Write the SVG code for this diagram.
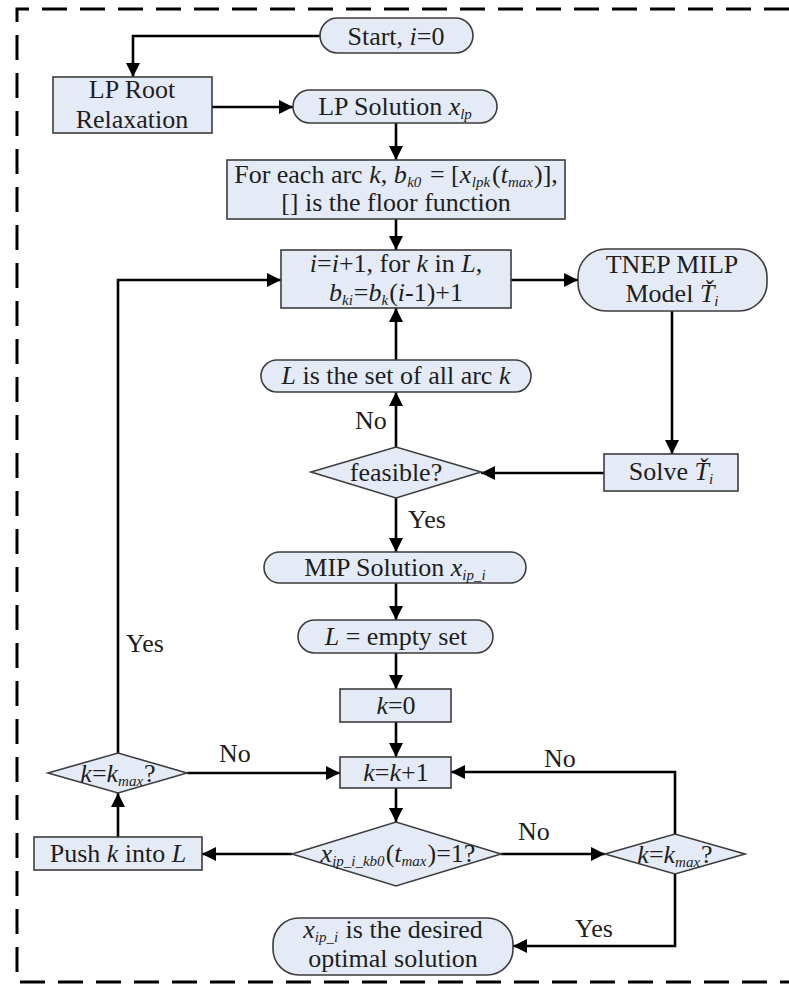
<svg xmlns="http://www.w3.org/2000/svg" width="789" height="988" viewBox="0 0 789 988">
  <defs>
    <marker id="arrow" markerUnits="userSpaceOnUse" markerWidth="14" markerHeight="14" refX="14" refY="7" orient="auto">
      <path d="M0,0 L14,7 L0,14 z" fill="#000"/>
    </marker>
    <style>
      .node { fill: #e4ebf7; stroke: #3d3d3d; stroke-width: 1.6; }
      .edge { fill: none; stroke: #000; stroke-width: 2.6; marker-end: url(#arrow); }
      .frame { fill: none; stroke: #000; stroke-width: 3; stroke-dasharray: 25 13; }
      text { font-family: "Liberation Serif", "Times New Roman", serif; font-size: 26px; fill: #1e1e1e; }
      .c { text-anchor: middle; }
      .it { font-style: italic; }
      .sub { font-style: italic; font-size: 15px; }
    </style>
  </defs>

  <rect width="789" height="988" fill="#fff"/>

  <!-- dashed outer boundary (right side runs off the page) -->
  <path class="frame" d="M789,9 H17 V982 H789"/>

  <!-- connectors -->
  <g id="connectors">
    <path class="edge" d="M320,36 H133 V77"/>
    <path class="edge" d="M212,107 H293"/>
    <path class="edge" d="M396,123 V160"/>
    <path class="edge" d="M396,219 V250"/>
    <path class="edge" d="M511,280 H578"/>
    <path class="edge" d="M672,311 V454"/>
    <path class="edge" d="M604,473 H481"/>
    <path class="edge" d="M396,447 V392"/>
    <path class="edge" d="M396,360 V308"/>
    <path class="edge" d="M396,498 V552"/>
    <path class="edge" d="M396,583 V620"/>
    <path class="edge" d="M396,653 V689"/>
    <path class="edge" d="M396,722 V757"/>
    <path class="edge" d="M396,788 V822"/>
    <path class="edge" d="M292,854 H202"/>
    <path class="edge" d="M118,837 V793"/>
    <path class="edge" d="M187,773 H340"/>
    <path class="edge" d="M118,753 V280 H281"/>
    <path class="edge" d="M501,854 H605"/>
    <path class="edge" d="M675,834 V772 H451"/>
    <path class="edge" d="M675,874 V946 H513"/>

    <text x="355" y="429">No</text>
    <text x="408" y="528">Yes</text>
    <text x="126" y="652">Yes</text>
    <text x="219" y="762">No</text>
    <text x="544" y="767">No</text>
    <text x="518" y="840">No</text>
    <text x="575" y="937">Yes</text>
  </g>

  <g id="start">
    <rect class="node" x="320" y="18" width="153" height="35" rx="17.5"/>
    <text class="c" x="396" y="44.5">Start, <tspan class="it">i</tspan>=0</text>
  </g>

  <g id="lp-root">
    <rect class="node" x="53" y="77" width="159" height="56"/>
    <text class="c" x="132" y="98">LP Root</text>
    <text class="c" x="132" y="128">Relaxation</text>
  </g>

  <g id="lp-solution">
    <rect class="node" x="293" y="90" width="204" height="33" rx="16.5"/>
    <text class="c" x="395" y="115">LP Solution <tspan class="it">x</tspan><tspan class="sub" dy="4">lp</tspan></text>
  </g>

  <g id="floor-init">
    <rect class="node" x="227" y="160" width="338" height="59"/>
    <text class="c" x="396" y="183">For each arc <tspan class="it">k</tspan>, <tspan class="it">b</tspan><tspan class="sub" dx="0.5" dy="4">k0</tspan><tspan dx="2" dy="-4"> = [</tspan><tspan class="it">x</tspan><tspan class="sub" dx="0.5" dy="4">lpk</tspan><tspan dx="2" dy="-4">(</tspan><tspan class="it">t</tspan><tspan class="sub" dy="4">max</tspan><tspan dx="1" dy="-4">)],</tspan></text>
    <text class="c" x="396" y="211">[] is the floor function</text>
  </g>

  <g id="increment">
    <rect class="node" x="281" y="250" width="230" height="58"/>
    <text class="c" x="396" y="272"><tspan class="it">i</tspan>=<tspan class="it">i</tspan>+1, for <tspan class="it">k</tspan> in <tspan class="it">L</tspan>,</text>
    <text class="c" x="396" y="301"><tspan class="it">b</tspan><tspan class="sub" dy="4">ki</tspan><tspan dx="1" dy="-4">=</tspan><tspan class="it">b</tspan><tspan class="sub" dy="4">k</tspan><tspan dx="1" dy="-4">(</tspan><tspan class="it">i</tspan>-1)+1</text>
  </g>

  <g id="tnep-model">
    <rect class="node" x="578" y="249" width="189" height="62" rx="28"/>
    <text class="c" x="672" y="273">TNEP MILP</text>
    <text class="c" x="672" y="302">Model <tspan class="it">Ť</tspan><tspan class="sub" dy="4">i</tspan></text>
  </g>

  <g id="solve">
    <rect class="node" x="604" y="454" width="134" height="37"/>
    <text class="c" x="671" y="480">Solve <tspan class="it">Ť</tspan><tspan class="sub" dy="4">i</tspan></text>
  </g>

  <g id="reset-all">
    <rect class="node" x="261" y="360" width="270" height="32" rx="16"/>
    <text class="c" x="396" y="384"><tspan class="it">L</tspan> is the set of all arc <tspan class="it">k</tspan></text>
  </g>

  <g id="feasible">
    <polygon class="node" points="311,472 396,447 481,472 396,498"/>
    <text class="c" x="396" y="481">feasible?</text>
  </g>

  <g id="mip-solution">
    <rect class="node" x="264" y="552" width="262" height="31" rx="15.5"/>
    <text class="c" x="395" y="576">MIP Solution <tspan class="it">x</tspan><tspan class="sub" dy="4">ip_i</tspan></text>
  </g>

  <g id="empty-set">
    <rect class="node" x="298" y="620" width="195" height="33" rx="16.5"/>
    <text class="c" x="396" y="645"><tspan class="it">L</tspan> = empty set</text>
  </g>

  <g id="k-zero">
    <rect class="node" x="340" y="689" width="111" height="33"/>
    <text class="c" x="396" y="714"><tspan class="it">k</tspan>=0</text>
  </g>

  <g id="k-next">
    <rect class="node" x="340" y="757" width="111" height="31"/>
    <text class="c" x="396" y="781"><tspan class="it">k</tspan>=<tspan class="it">k</tspan>+1</text>
  </g>

  <g id="check-arc">
    <polygon class="node" points="292,854 396,822 501,854 396,886"/>
    <text class="c" x="398" y="862"><tspan class="it">x</tspan><tspan class="sub" dy="4" font-size="12">ip_i_kb0</tspan><tspan dx="1" dy="-4">(</tspan><tspan class="it">t</tspan><tspan class="sub" dy="4">max</tspan><tspan dx="1" dy="-4">)=1?</tspan></text>
  </g>

  <g id="push">
    <rect class="node" x="34" y="837" width="168" height="33"/>
    <text class="c" x="118" y="862">Push <tspan class="it">k</tspan> into <tspan class="it">L</tspan></text>
  </g>

  <g id="kmax-left">
    <polygon class="node" points="48,773 118,753 187,773 118,793"/>
    <text class="c" x="118" y="782"><tspan class="it">k</tspan>=<tspan class="it">k</tspan><tspan class="sub" dy="4">max</tspan><tspan dx="1" dy="-4">?</tspan></text>
  </g>

  <g id="kmax-right">
    <polygon class="node" points="605,854 675,834 745,854 675,874"/>
    <text class="c" x="675" y="863"><tspan class="it">k</tspan>=<tspan class="it">k</tspan><tspan class="sub" dy="4">max</tspan><tspan dx="1" dy="-4">?</tspan></text>
  </g>

  <g id="optimal">
    <rect class="node" x="273" y="918" width="240" height="57" rx="26"/>
    <text class="c" x="393" y="938"><tspan class="it">x</tspan><tspan class="sub" dy="4">ip_i</tspan><tspan dx="1" dy="-4"> is the desired</tspan></text>
    <text class="c" x="393" y="967">optimal solution</text>
  </g>
</svg>
